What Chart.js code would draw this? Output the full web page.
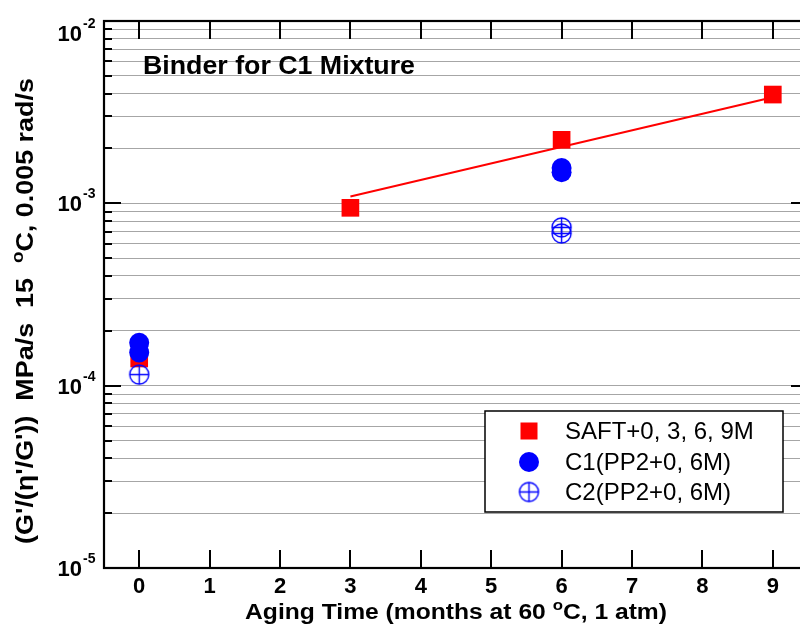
<!DOCTYPE html>
<html>
<head>
<meta charset="utf-8">
<script src="https://cdn.jsdelivr.net/npm/chart.js@4/dist/chart.umd.min.js"></script>
<style>
  html, body { margin: 0; padding: 0; background: #fff; overflow: hidden; width: 800px; height: 635px; }
  #wrap { position: absolute; left: 0; top: 0; width: 810px; height: 635px; }
</style>
</head>
<body>
<div id="wrap"><canvas id="c" width="810" height="635"></canvas></div>
<script>
// Aging time (months) and G'/(eta'/G') values, MPa/s at 15 °C, 0.005 rad/s
const saftMonths = [0, 3, 6, 9];
const saftValues = [1.41e-4, 9.45e-4, 2.23e-3, 3.95e-3];

const c1Months = [0, 0, 6, 6];
const c1Values = [1.72e-4, 1.52e-4, 1.56e-3, 1.48e-3];

const c2Months = [0, 6, 6];
const c2Values = [1.15e-4, 7.38e-4, 6.84e-4];

// trend line through the SAFT aged points
const fitMonths = [3, 9];
const fitValues = [1.09e-3, 3.82e-3];

const xTickValues = [0, 1, 2, 3, 4, 5, 6, 7, 8, 9];
const yDecades = [-5, -4, -3, -2];

const legendLabels = ['SAFT+0, 3, 6, 9M', 'C1(PP2+0, 6M)', 'C2(PP2+0, 6M)'];

const FONT = '"Liberation Sans", Arial, Helvetica, sans-serif';
const RED = '#ff0000';
const BLUE = '#0000ff';

function pairs(xs, ys) { return xs.map((x, i) => ({ x: x, y: ys[i] })); }

// open circle with a plus through it
function ringCross(r, color, lw) {
  const s = Math.ceil(2 * r + lw + 2);
  const cv = document.createElement('canvas');
  cv.width = s; cv.height = s;
  const g = cv.getContext('2d');
  const m = s / 2;
  g.strokeStyle = color; g.lineWidth = lw;
  g.beginPath(); g.arc(m, m, r, 0, Math.PI * 2); g.stroke();
  g.beginPath();
  g.moveTo(m - r, m); g.lineTo(m + r, m);
  g.moveTo(m, m - r); g.lineTo(m, m + r);
  g.stroke();
  return cv;
}
const crossMarker = ringCross(9.5, BLUE, 1.4);

// y tick values: 1..9 x 10^n for every decade
const yTickValues = [];
yDecades.forEach((e, i) => {
  const last = i === yDecades.length - 1;
  for (let m = 1; m <= (last ? 1 : 9); m++) yTickValues.push(m * Math.pow(10, e));
});

// text with raised small parts, optionally stretched horizontally
function drawSupText(ctx, parts, x, y, align, stretch) {
  const big = ctx.font;
  let w = 0;
  parts.forEach(p => { ctx.font = p.sup ? p.font : big; p.w = ctx.measureText(p.t).width; w += p.w; });
  ctx.save();
  ctx.translate(x, y);
  ctx.scale(stretch || 1, 1);
  let cx = align === 'center' ? -w / 2 : (align === 'right' ? -w : 0);
  ctx.textAlign = 'left';
  parts.forEach(p => {
    ctx.font = p.sup ? p.font : big;
    ctx.fillText(p.t, cx, p.sup ? p.dy : 0);
    cx += p.w;
  });
  ctx.restore();
  ctx.font = big;
}

const decorations = {
  id: 'decorations',
  afterDraw(chart) {
    const ctx = chart.ctx;
    const a = chart.chartArea;
    const xs = chart.scales.x, ys = chart.scales.y;
    ctx.save();

    // frame
    ctx.strokeStyle = '#000';
    ctx.lineWidth = 2.2;
    ctx.strokeRect(a.left, a.top, a.right - a.left, a.bottom - a.top);

    // y ticks, inward on both sides
    ctx.lineWidth = 2;
    yTickValues.forEach(v => {
      const py = Math.round(ys.getPixelForValue(v));
      const major = Math.abs(Math.log10(v) - Math.round(Math.log10(v))) < 1e-9;
      const len = major ? 17 : 8;
      ctx.beginPath();
      ctx.moveTo(a.left, py); ctx.lineTo(a.left + len, py);
      ctx.moveTo(a.right, py); ctx.lineTo(a.right - len, py);
      ctx.stroke();
    });

    // x ticks, inward top and bottom
    xTickValues.forEach(v => {
      const px = Math.round(xs.getPixelForValue(v));
      ctx.beginPath();
      ctx.moveTo(px, a.bottom); ctx.lineTo(px, a.bottom - 18);
      ctx.moveTo(px, a.top); ctx.lineTo(px, a.top + 18);
      ctx.stroke();
    });

    ctx.fillStyle = '#000';

    // x tick labels
    ctx.font = 'bold 22px ' + FONT;
    ctx.textAlign = 'center';
    ctx.textBaseline = 'alphabetic';
    xTickValues.forEach(v => {
      ctx.fillText(String(v), xs.getPixelForValue(v), 593);
    });

    // y tick labels 10^n
    yDecades.forEach(e => {
      const py = Math.max(ys.getPixelForValue(Math.pow(10, e)), 33);
      ctx.font = 'bold 22px ' + FONT;
      ctx.textAlign = 'right';
      ctx.textBaseline = 'alphabetic';
      ctx.fillText('10', 82, py + 8);
      ctx.font = 'bold 14px ' + FONT;
      ctx.textAlign = 'left';
      ctx.fillText(String(e), 83, py - 5);
    });

    // x axis title
    ctx.font = 'bold 22px ' + FONT;
    ctx.textBaseline = 'alphabetic';
    drawSupText(ctx, [
      { t: 'Aging Time (months at 60 ' },
      { t: 'o', sup: true, font: 'bold 15px ' + FONT, dy: -9 },
      { t: 'C, 1 atm)' }
    ], (a.left + a.right) / 2, 619, 'center', 1.12);

    // y axis title
    ctx.save();
    ctx.translate(33, 311);
    ctx.rotate(-Math.PI / 2);
    ctx.font = 'bold 23px ' + FONT;
    drawSupText(ctx, [
      { t: '(G\'/(\u03b7\'/G\'))  MPa/s  15  ' },
      { t: 'o', sup: true, font: 'bold 16px ' + FONT, dy: -10 },
      { t: 'C, 0.005 rad/s' }
    ], 0, 0, 'center', 1.17);
    ctx.restore();

    // plot title
    ctx.font = 'bold 25px ' + FONT;
    drawSupText(ctx, [{ t: 'Binder for C1 Mixture' }], 143, 74, 'left', 1.07);

    // legend box
    const lx = 485, ly = 411, lw = 298, lh = 101;
    ctx.fillStyle = '#fff';
    ctx.fillRect(lx, ly, lw, lh);
    ctx.strokeStyle = '#000';
    ctx.lineWidth = 1.5;
    ctx.strokeRect(lx, ly, lw, lh);
    const rows = [431, 462, 492];
    const mx = 529;
    ctx.fillStyle = RED;
    ctx.fillRect(mx - 8.5, rows[0] - 8.5, 17, 17);
    ctx.fillStyle = BLUE;
    ctx.beginPath(); ctx.arc(mx, rows[1], 10, 0, Math.PI * 2); ctx.fill();
    ctx.drawImage(crossMarker, mx - crossMarker.width / 2, rows[2] - crossMarker.height / 2);
    ctx.fillStyle = '#000';
    ctx.font = '24px ' + FONT;
    ctx.textAlign = 'left';
    ctx.textBaseline = 'middle';
    legendLabels.forEach((t, i) => ctx.fillText(t, 565, rows[i] + 1));

    ctx.restore();
  }
};

new Chart(document.getElementById('c'), {
  type: 'scatter',
  data: {
    datasets: [
      {
        label: 'trend',
        data: pairs(fitMonths, fitValues),
        showLine: true,
        borderColor: RED,
        borderWidth: 2,
        pointRadius: 0,
        order: 4
      },
      {
        label: legendLabels[0],
        data: pairs(saftMonths, saftValues),
        pointStyle: 'rect',
        pointRadius: 12.5,
        backgroundColor: RED,
        borderColor: RED,
        borderWidth: 0,
        order: 3
      },
      {
        label: legendLabels[1],
        data: pairs(c1Months, c1Values),
        pointStyle: 'circle',
        pointRadius: 10,
        backgroundColor: BLUE,
        borderColor: BLUE,
        borderWidth: 0,
        order: 1
      },
      {
        label: legendLabels[2],
        data: pairs(c2Months, c2Values),
        pointStyle: crossMarker,
        pointRadius: 10,
        backgroundColor: 'rgba(0,0,0,0)',
        borderColor: BLUE,
        order: 2
      }
    ]
  },
  options: {
    responsive: false,
    animation: false,
    events: [],
    layout: { autoPadding: false, padding: { top: 21, right: 2, left: 0, bottom: 0 } },
    plugins: { legend: { display: false }, tooltip: { enabled: false }, title: { display: false } },
    scales: {
      x: {
        type: 'linear',
        min: -0.5,
        max: 9.5,
        afterBuildTicks: s => { s.ticks = xTickValues.map(v => ({ value: v })); },
        afterFit: s => { s.height = 67; },
        ticks: { display: false },
        grid: { display: false },
        border: { display: false }
      },
      y: {
        type: 'logarithmic',
        min: 1e-5,
        max: 1e-2,
        afterBuildTicks: s => { s.ticks = yTickValues.map(v => ({ value: v })); },
        afterFit: s => { s.width = 104; },
        ticks: { display: false },
        grid: { color: '#a6a6a6', lineWidth: 1, drawTicks: false },
        border: { display: false }
      }
    }
  },
  plugins: [decorations]
});
</script>
</body>
</html>
